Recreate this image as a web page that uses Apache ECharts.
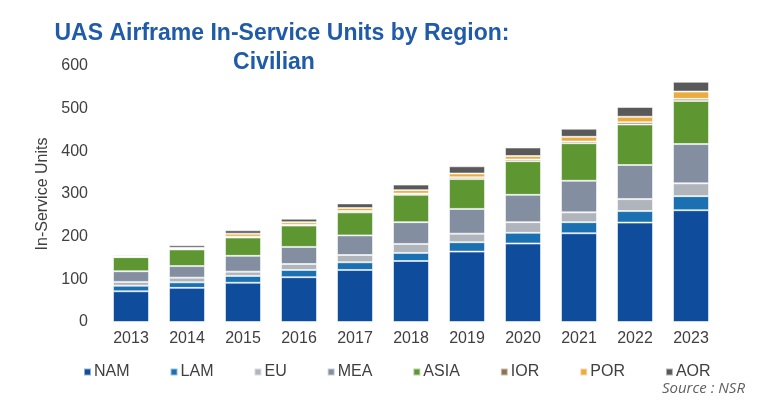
<!DOCTYPE html>
<html>
<head>
<meta charset="utf-8">
<script src="https://cdn.jsdelivr.net/npm/echarts@6/dist/echarts.min.js"></script>
<style>
  html, body { margin: 0; padding: 0; background: #fff; }
  #chart { width: 767px; height: 403px; }
</style>
</head>
<body>
<div id="chart"></div>
<script>
// years on the x axis
var years = ['2013', '2014', '2015', '2016', '2017', '2018', '2019', '2020', '2021', '2022', '2023'];
var regions = ['NAM', 'LAM', 'EU', 'MEA', 'ASIA', 'IOR', 'POR', 'AOR'];
var yTicks = [0, 100, 200, 300, 400, 500, 600];

// units per region
var nam  = [72, 80, 92, 105, 122, 143, 165, 184, 208, 233, 262];
var lam  = [13, 13, 16, 17, 18, 19, 22, 25, 26, 27, 33];
var eu   = [9, 11, 10, 14, 17, 21, 20, 25, 23, 28, 30];
var mea  = [25, 27, 37, 40, 46, 51, 58, 64, 74, 80, 92];
var asia = [33, 39, 43, 50, 54, 64, 70, 79, 88, 95, 101];
var ior  = [1, 2, 2, 2, 3, 3, 4, 4, 4, 5, 5];
var por  = [1, 2, 7, 6, 7, 8, 9, 8, 11, 13, 17];
var aor  = [3, 6, 8, 8, 11, 13, 17, 20, 19, 23, 23];

var colors = ['#0f4c9c', '#1a70b0', '#b0b5bc', '#838ea0', '#5e9732', '#8c7451', '#ebab3f', '#595959'];
var values = [nam, lam, eu, mea, asia, ior, por, aor];

var chart = echarts.init(document.getElementById('chart'));

var series = regions.map(function (name, i) {
  return {
    name: name,
    type: 'bar',
    stack: 'total',
    barWidth: 36,
    data: values[i],
    itemStyle: {
      color: colors[i],
      borderColor: 'rgba(255,255,255,0.55)',
      borderWidth: 1
    }
  };
});

chart.setOption({
  animation: false,
  color: colors,
  textStyle: { fontFamily: 'Liberation Sans, Arial, sans-serif' },
  grid: { left: 103, right: 48, top: 66, bottom: 81 },
  graphic: [
    {
      type: 'text',
      style: {
        text: 'UAS Airframe In-Service Units by Region:',
        x: 282, y: 34,
        fill: '#1f5ba8',
        font: 'bold 23px "Liberation Sans", Arial, sans-serif',
        textAlign: 'center',
        textVerticalAlign: 'middle'
      }
    },
    {
      type: 'text',
      style: {
        text: 'Civilian',
        x: 274, y: 63,
        fill: '#1f5ba8',
        font: 'bold 23px "Liberation Sans", Arial, sans-serif',
        textAlign: 'center',
        textVerticalAlign: 'middle'
      }
    },
    {
      type: 'text',
      style: {
        text: 'Source : NSR',
        x: 745, y: 389,
        fill: '#606060',
        font: 'italic 15px "Open Sans", "DejaVu Sans", sans-serif',
        textAlign: 'right',
        textVerticalAlign: 'middle'
      }
    }
  ],
  legend: {
    data: regions,
    left: 78,
    top: 359,
    itemWidth: 7,
    itemHeight: 7,
    itemGap: 40,
    icon: 'rect',
    textStyle: { fontSize: 16, color: '#404040', padding: [0, 0, 0, -2] }
  },
  xAxis: {
    type: 'category',
    data: years,
    axisLine: { show: false },
    axisTick: { show: false },
    axisLabel: { fontSize: 16, color: '#404040', margin: 9 }
  },
  yAxis: {
    type: 'value',
    min: yTicks[0],
    max: yTicks[yTicks.length - 1],
    interval: 100,
    name: 'In-Service Units',
    nameLocation: 'middle',
    nameGap: 48,
    nameTextStyle: { fontSize: 16, color: '#404040', padding: [0, 0, 0, 0] },
    splitLine: { show: false },
    axisLine: { show: false },
    axisTick: { show: false },
    axisLabel: { fontSize: 16, color: '#404040', margin: 15 }
  },
  series: series
});
</script>
</body>
</html>
